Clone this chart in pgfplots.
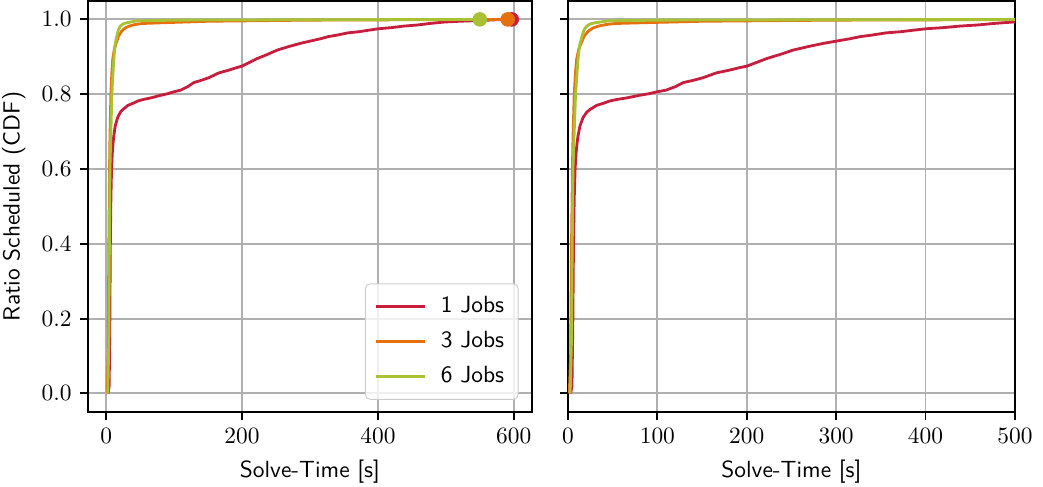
\documentclass[border=0pt]{standalone}
\usepackage{pgfplots}
\usepackage{pgfplotstable}
\pgfplotsset{compat=1.18}
\definecolor{cRed}{RGB}{200,30,62}
\definecolor{cOrange}{RGB}{230,112,12}
\definecolor{cGreen}{RGB}{168,194,52}
\definecolor{cGrid}{RGB}{176,176,176}

\pgfplotstableread{
x y
3 0
4.5 0.02
5.5 0.2
6.2 0.4
7 0.52
8 0.6
9 0.64
10 0.665
11 0.685
13.4 0.715
17 0.738
21 0.752
24.6 0.759
32 0.77
40 0.776
47 0.782
55 0.786
65.6 0.79
80 0.797
90 0.801
99 0.806
110 0.811
120 0.82
129 0.831
140 0.837
151 0.844
166 0.857
180 0.864
192 0.871
200 0.875
210 0.884
222 0.895
237 0.906
252 0.918
270 0.928
286 0.936
300.5 0.942
315 0.948
327 0.954
340 0.958
356 0.964
372 0.967
386 0.971
401 0.975
420 0.978
438 0.982
458 0.985
476 0.989
498 0.993
520 0.995
550 0.997
575 0.999
597 1.0
}\tabRed

\pgfplotstableread{
x y
1.5 0
3 0.1
4 0.4
5 0.6
5.6 0.68
7 0.8
8.5 0.86
9.7 0.893
12 0.92
14.9 0.937
18 0.955
23 0.969
28 0.977
34 0.982
42 0.986
53 0.989
83 0.991
150 0.995
300 0.998
450 0.999
594 1.0
}\tabOrange

\pgfplotstableread{
x y
2.5 0
4 0.15
5 0.45
5.6 0.6
6.7 0.679
8.5 0.8
11.2 0.893
13 0.93
15.7 0.955
18 0.972
21 0.982
25 0.988
30.5 0.991
45 0.996
100 0.998
300 0.999
550 1.0
}\tabGreen

\pgfplotsset{
  cdfaxis/.style={
    scale only axis,
    height=175.8pt,
    ymin=-0.05, ymax=1.05,
    ytick={0,0.2,0.4,0.6,0.8,1.0},
    yticklabel style={/pgf/number format/.cd,fixed,fixed zerofill,precision=1},
    tick align=outside,
    tick pos=left,
    major tick length=3.5pt,
    every tick/.style={black, line width=0.8pt},
    axis line style={line width=0.8pt},
    grid=major,
    grid style={cGrid, line width=0.8pt},
    xlabel={\sffamily Solve-Time [s]},
    clip=true,
    tick label style={font=\normalsize},
  },
}

\begin{document}
\begin{tikzpicture}
\begin{axis}[
  cdfaxis,
  width=189.7pt,
  xmin=-26.7, xmax=626.7,
  xtick={0,200,400,600},
  ylabel={\sffamily Ratio Scheduled (CDF)},
  clip marker paths=true,
  legend style={at={(0.97,0.03)}, anchor=south east, font=\sffamily,
    draw=gray!40, rounded corners=2pt, fill=white, fill opacity=0.8,
    text opacity=1, row sep=2.5pt, inner xsep=4pt, inner ysep=3.5pt,
    /tikz/every odd column/.append style={column sep=4pt}},
  legend cell align=left,
  legend image code/.code={\draw[#1] (0pt,0pt) -- (21pt,0pt);},
]
\addplot[cRed, line width=1.2pt] table {\tabRed};
\addlegendentry{1 Jobs}
\addplot[cOrange, line width=1.2pt] table {\tabOrange};
\addlegendentry{3 Jobs}
\addplot[cGreen, line width=1.2pt] table {\tabGreen};
\addlegendentry{6 Jobs}
\addplot[only marks, mark=*, mark size=2.9pt, cRed, forget plot] coordinates {(597,1.0)};
\addplot[only marks, mark=*, mark size=2.9pt, cOrange, forget plot] coordinates {(591,1.0)};
\addplot[only marks, mark=*, mark size=2.9pt, cGreen, forget plot] coordinates {(550,1.0)};
\end{axis}
\begin{axis}[
  cdfaxis,
  xshift=205.1pt,
  width=191.0pt,
  xmin=0, xmax=500,
  xtick={0,100,200,300,400,500},
  yticklabels={},
]
\addplot[cRed, line width=1.2pt] table {\tabRed};
\addplot[cOrange, line width=1.2pt] table {\tabOrange};
\addplot[cGreen, line width=1.2pt] table {\tabGreen};
\end{axis}
\pgfresetboundingbox
\path[use as bounding box] (-37.6pt,-31.6pt) rectangle (408.1pt,176.1pt);
\end{tikzpicture}
\end{document}
